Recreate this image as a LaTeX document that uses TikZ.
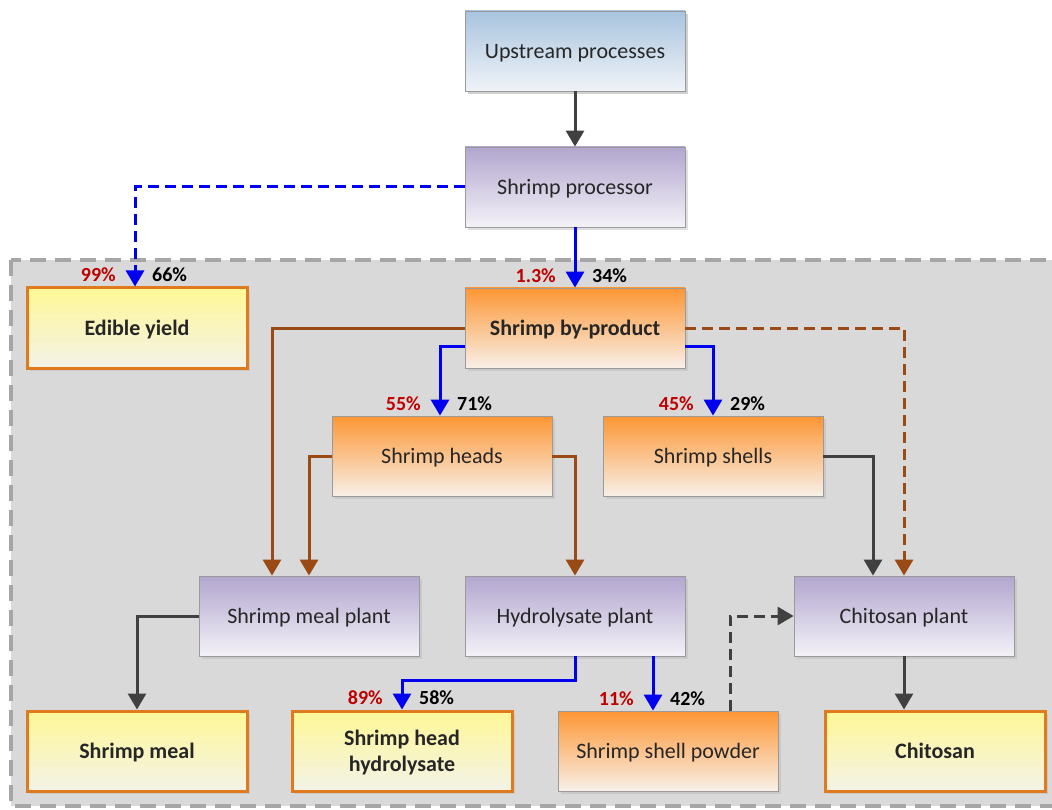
\documentclass[tikz,border=0pt]{standalone}
\usepackage{fontspec}
\setmainfont{Carlito}
\usetikzlibrary{arrows.meta,shadows}
\definecolor{flowblue}{HTML}{0000F0}
\definecolor{flowbrown}{HTML}{9A4A14}
\definecolor{flowgray}{HTML}{404040}
\definecolor{pctred}{HTML}{C00000}
\definecolor{zonefill}{HTML}{D9D9D9}
\definecolor{zoneline}{HTML}{A6A6A6}
\definecolor{boxline}{HTML}{9A9A9A}
\definecolor{prodline}{HTML}{E07A1F}
\tikzset{
  box/.style={minimum width=220pt, minimum height=80pt, inner sep=0pt,
    draw=boxline, line width=0.8pt, font=\fontsize{22}{26}\selectfont,
    align=center, text=black!85, text depth=0pt, shading=axis},
  upbox/.style={box, top color={rgb,255:red,168;green,196;blue,222}, bottom color={rgb,255:red,240;green,243;blue,248},
    drop shadow={shadow xshift=3pt, shadow yshift=-3pt, fill=gray!60, opacity=0.6}},
  plantbox/.style={box, top color={rgb,255:red,178;green,166;blue,206}, bottom color={rgb,255:red,244;green,242;blue,248},
    drop shadow={shadow xshift=3pt, shadow yshift=-3pt, fill=gray!60, opacity=0.4}},
  midbox/.style={box, top color={rgb,255:red,253;green,150;blue,52}, bottom color={rgb,255:red,248;green,240;blue,232},
    drop shadow={shadow xshift=3pt, shadow yshift=-3pt, fill=gray!60, opacity=0.4}},
  prodbox/.style={box, draw=prodline, line width=3pt, font=\fontsize{22}{26}\selectfont\bfseries,
    top color={rgb,255:red,255;green,247;blue,150}, bottom color={rgb,255:red,243;green,243;blue,232},
    drop shadow={shadow xshift=3pt, shadow yshift=-3pt, fill=gray!60, opacity=0.4}},
  flow/.style={line width=3pt, -{Triangle[width=18pt,length=16pt]}},
  dashflow/.style={flow, dash pattern=on 11pt off 6pt},
  pct/.style={font=\fontsize{20}{22}\selectfont\bfseries, inner sep=0pt},
  redpct/.style={pct, text=pctred, anchor=east},
  blkpct/.style={pct, text=black, anchor=west},
}
\begin{document}
\begin{tikzpicture}[x=1pt,y=-1pt]
\useasboundingbox (0,0) rectangle (1052,810);
% processing zone
\draw[fill=zonefill, draw=zoneline, line width=4.5pt, dash pattern=on 16pt off 9pt]
  (11,260) rectangle (1070,806);

% boxes
\node[upbox]    (up)  at (575,51)  {Upstream processes};
\node[plantbox] (sp)  at (575,187) {Shrimp processor};
\node[prodbox]  (ey)  at (137,328) {Edible yield};
\node[midbox, font=\fontsize{22}{26}\selectfont\bfseries] (bp) at (575,328) {Shrimp by-product};
\node[midbox]   (hd)  at (442,456) {Shrimp heads};
\node[midbox]   (ss)  at (713,456) {Shrimp shells};
\node[plantbox] (mp)  at (309,616) {Shrimp meal plant};
\node[plantbox] (hp)  at (575,616) {Hydrolysate plant};
\node[plantbox] (cp)  at (904,616) {Chitosan plant};
\node[prodbox]  (sm)  at (137,751) {Shrimp meal};
\node[prodbox]  (shh) at (402,751) {Shrimp head\\hydrolysate};
\node[midbox]   (pw)  at (668,751) {Shrimp shell powder};
\node[prodbox]  (ch)  at (935,751) {Chitosan};

% connectors
\draw[flow, flowgray] (up) -- (sp);
\draw[dashflow, flowblue] (sp.west) -| ([xshift=-2pt]ey.north) coordinate (eyin);
\draw[flow, flowblue] (sp) -- (bp);
\coordinate (bpin) at (bp.north);
\draw[flow, flowblue] ([yshift=-18pt]bp.west) -| ([xshift=-2pt]hd.north) coordinate (hdin);
\draw[flow, flowblue] ([yshift=-18pt]bp.east) -| (ss.north) coordinate (ssin);
\draw[flow, flowbrown] (bp.west) -| ([xshift=-37pt]mp.north);
\draw[dashflow, flowbrown] (bp.east) -| (cp.north);
\draw[flow, flowbrown] (hd.west) -| (mp.north);
\draw[flow, flowbrown] (hd.east) -| (hp.north);
\draw[flow, flowgray] (ss.east) -| ([xshift=-31pt]cp.north);
\draw[flow, flowgray] (mp.west) -| (sm.north);
\draw[flow, flowblue] (hp.south) -- ++(0,24) -| (shh.north) coordinate (shhin);
\draw[flow, flowblue] ([xshift=78pt]hp.south) -- ([xshift=-15pt]pw.north) coordinate (pwin);
\draw[dashflow, flowgray] ([xshift=62pt]pw.north) |- (cp.west);
\draw[flow, flowgray] (cp.south) -- (cp.south |- ch.north);

% shares of each stream
\node[redpct] at ([xshift=-19pt,yshift=12pt]eyin) {99\%};
\node[blkpct] at ([xshift=17pt,yshift=12pt]eyin) {66\%};
\node[redpct] at ([xshift=-19pt,yshift=12pt]bpin) {1.3\%};
\node[blkpct] at ([xshift=17pt,yshift=12pt]bpin) {34\%};
\node[redpct] at ([xshift=-19pt,yshift=12pt]hdin) {55\%};
\node[blkpct] at ([xshift=17pt,yshift=12pt]hdin) {71\%};
\node[redpct] at ([xshift=-19pt,yshift=12pt]ssin) {45\%};
\node[blkpct] at ([xshift=17pt,yshift=12pt]ssin) {29\%};
\node[redpct] at ([xshift=-19pt,yshift=12pt]shhin) {89\%};
\node[blkpct] at ([xshift=17pt,yshift=12pt]shhin) {58\%};
\node[redpct] at ([xshift=-19pt,yshift=12pt]pwin) {11\%};
\node[blkpct] at ([xshift=17pt,yshift=12pt]pwin) {42\%};
\end{tikzpicture}
\end{document}
